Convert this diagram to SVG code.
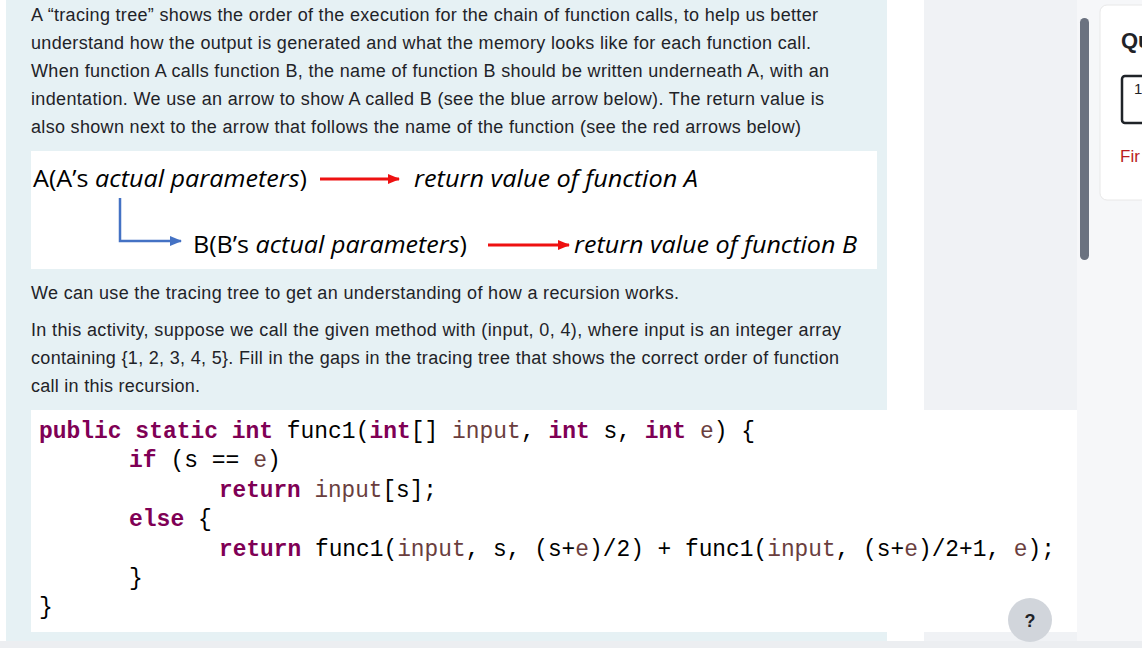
<svg xmlns="http://www.w3.org/2000/svg" width="1142" height="648" viewBox="0 0 1142 648">
<defs>
<style>
.p{font-family:"Liberation Sans",Arial,sans-serif;font-size:18px;fill:#1f2328}
.d{font-family:"Open Sans","Noto Sans",sans-serif;font-size:23px;fill:#000}
.i{font-style:italic}
.c{font-family:"Liberation Mono","DejaVu Sans Mono",monospace;font-size:23px;fill:#000}
.k{fill:#7f0055;font-weight:bold}
.v{fill:#6a3e3e}
</style>
<marker id="ar" markerWidth="12" markerHeight="10" refX="11" refY="5" orient="auto" markerUnits="userSpaceOnUse"><path d="M0,0 L12,5 L0,10 Z" fill="#ee1111"/></marker>
<marker id="ab" markerWidth="12" markerHeight="10" refX="11" refY="5" orient="auto" markerUnits="userSpaceOnUse"><path d="M0,0 L12,5 L0,10 Z" fill="#4472c4"/></marker>
</defs>
<rect width="1142" height="648" fill="#f6f7f9"/>
<rect x="0" y="0" width="6" height="648" fill="#ffffff"/>
<rect x="6" y="0" width="881" height="641" fill="#e6f1f4"/>
<rect x="887" y="0" width="37" height="641" fill="#ffffff"/>
<rect x="924" y="0" width="153" height="641" fill="#f0f2f5"/>
<rect x="1080" y="18" width="9" height="242" rx="4.5" fill="#6b7280"/>
<rect x="1100" y="5" width="50" height="195" rx="7" fill="#ffffff" stroke="#e8e8e8"/>
<text x="1121" y="48" style="font-family:'Liberation Sans',sans-serif;font-size:22px;font-weight:bold;fill:#1f2328">Qu</text>
<rect x="1122" y="76" width="30" height="47" rx="3" fill="none" stroke="#1f2328" stroke-width="2.5"/>
<text x="1134" y="94" style="font-family:'Liberation Sans',sans-serif;font-size:15px;fill:#1f2328">1</text>
<text x="1120" y="162" style="font-family:'Liberation Sans',sans-serif;font-size:17px;fill:#b91c1c">Fir</text>
<rect x="0" y="641" width="1142" height="7" fill="#eceef1"/>

<g id="intro">
<text class="p" x="31" y="21" textLength="787">A “tracing tree” shows the order of the execution for the chain of function calls, to help us better</text>
<text class="p" x="31" y="49" textLength="780">understand how the output is generated and what the memory looks like for each function call.</text>
<text class="p" x="31" y="77" textLength="798">When function A calls function B, the name of function B should be written underneath A, with an</text>
<text class="p" x="31" y="105" textLength="793">indentation. We use an arrow to show A called B (see the blue arrow below). The return value is</text>
<text class="p" x="31" y="133" textLength="770">also shown next to the arrow that follows the name of the function (see the red arrows below)</text>
</g>

<rect x="31" y="151" width="846" height="118" fill="#ffffff"/>
<g id="nodeA"><text class="d" x="33" y="187" textLength="274" lengthAdjust="spacingAndGlyphs">A(A’s <tspan class="i">actual parameters</tspan>)</text></g>
<g id="retA"><text class="d i" x="414" y="187" textLength="284" lengthAdjust="spacingAndGlyphs">return value of function A</text></g>
<g id="nodeB"><text class="d" x="193" y="253" textLength="274" lengthAdjust="spacingAndGlyphs">B(B’s <tspan class="i">actual parameters</tspan>)</text></g>
<g id="retB"><text class="d i" x="574" y="253" textLength="283" lengthAdjust="spacingAndGlyphs">return value of function B</text></g>
<g id="connectors">
<line x1="320" y1="179" x2="399" y2="179" stroke="#ee1111" stroke-width="3" marker-end="url(#ar)"/>
<line x1="488" y1="245" x2="569" y2="245" stroke="#ee1111" stroke-width="3" marker-end="url(#ar)"/>
<polyline points="120,198 120,241 181,241" fill="none" stroke="#4472c4" stroke-width="2.5" marker-end="url(#ab)"/>
</g>

<g id="para2">
<text class="p" x="31" y="299" textLength="648">We can use the tracing tree to get an understanding of how a recursion works.</text>
<text class="p" x="31" y="336" textLength="810">In this activity, suppose we call the given method  with (input, 0, 4), where input is an integer array</text>
<text class="p" x="31" y="364" textLength="808">containing {1, 2, 3, 4, 5}. Fill in the gaps in the tracing tree that shows the correct order of function</text>
<text class="p" x="31" y="392" textLength="169">call in this recursion.</text>
</g>

<rect x="31" y="410" width="1046" height="222" fill="#ffffff"/>
<g id="code">
<text class="c" x="39" y="438" textLength="716" lengthAdjust="spacingAndGlyphs"><tspan class="k">public static int</tspan> func1(<tspan class="k">int</tspan>[] <tspan class="v">input</tspan>, <tspan class="k">int</tspan> s, <tspan class="k">int</tspan> <tspan class="v">e</tspan>) {</text>
<text class="c" x="129" y="467"><tspan class="k">if</tspan> (s == <tspan class="v">e</tspan>)</text>
<text class="c" x="219" y="497" textLength="218" lengthAdjust="spacingAndGlyphs"><tspan class="k">return</tspan> <tspan class="v">input</tspan>[s];</text>
<text class="c" x="129" y="526"><tspan class="k">else</tspan> {</text>
<text class="c" x="219" y="556" textLength="836" lengthAdjust="spacingAndGlyphs"><tspan class="k">return</tspan> func1(<tspan class="v">input</tspan>, s, (s+<tspan class="v">e</tspan>)/2) + func1(<tspan class="v">input</tspan>, (s+<tspan class="v">e</tspan>)/2+1, <tspan class="v">e</tspan>);</text>
<text class="c" x="129" y="585">}</text>
<text class="c" x="39" y="614">}</text>
</g>
<circle cx="1030" cy="620" r="22" fill="#d1d5db"/>
<text x="1030" y="627" text-anchor="middle" style="font-family:'Liberation Sans',sans-serif;font-size:18px;font-weight:bold;fill:#1f2328">?</text>
</svg>
